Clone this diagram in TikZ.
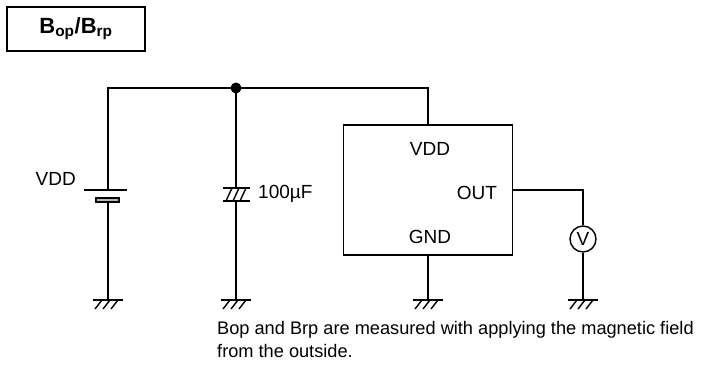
\documentclass[tikz,border=0pt]{standalone}
\usepackage{fontspec}
\setmainfont{Liberation Sans}
\usetikzlibrary{positioning,calc}
\tikzset{
	thick,
	>=latex,
	wire/.style = {line width=1.6pt},
	hatch/.style = {line width=1.4pt},
	chip/.style = {
			draw,
			line width = 1.6pt,
			minimum width = 169pt,
			minimum height = 130pt,
			inner sep = 0pt,
		},
	pin/.style = {font=\fontsize{19}{23}\selectfont, inner sep=0pt},
	meter/.style = {
			circle,
			draw,
			line width = 1.4pt,
			minimum size = 26pt,
			inner sep = 0pt,
			font = \fontsize{19}{22}\selectfont,
		},
}

\begin{document}
\begin{tikzpicture}[x=1pt,y=-1pt]
	\useasboundingbox (0,0) rectangle (704,376);

	% Title box
	\node[draw, line width=1.6pt, minimum width=138pt, minimum height=44pt,
		font=\fontsize{22}{26}\selectfont\bfseries] (title) at (76,29)
		{B\textsubscript{op}/B\textsubscript{rp}};

	% Sensor IC
	\node[chip] (ic) at (428,190) {};
	\node[pin] (vddpin) at (430,149) {VDD};
	\node[pin] (outpin) at (477,193) {OUT};
	\node[pin] (gndpin) at (430,237) {GND};

	% Grounds
	\foreach \x in {108,236,428,583}
		{   \coordinate (gnd\x) at (\x,300);
			\draw[wire] (\x-15,300) -- (\x+15,300);
			\foreach \d in {-6,2,10}
				\draw[hatch] (\x+\d,300) -- (\x+\d-7,309);
		}

	% Supply rail
	\coordinate (batP) at (108,190);
	\coordinate (batN) at (108,202);
	\coordinate (jn) at (236,88);
	\coordinate (capT) at (236,188);
	\coordinate (capB) at (236,201);
	\draw[wire] (batP) |- (jn) -| (ic.north);
	\fill (jn) circle (5.5pt);

	% Battery
	\draw[wire] (84,190) -- (127,190);
	\draw[line width=1.2pt, fill=gray!55] (96,198) rectangle (119,202);
	\draw[wire] (batN) -- (gnd108);
	\node[pin, anchor=east] (vddlbl) at (76,179) {VDD};

	% Capacitor
	\draw[wire] (jn) -- (capT);
	\draw[wire] (223,188) -- (250,188);
	\draw[wire] (223,201) -- (250,201);
	\foreach \s in {226,233,240}
		\draw[hatch] (\s,201) -- (\s+6,188);
	\draw[wire] (capB) -- (gnd236);
	\node[pin, anchor=west] (caplbl) at (258,194) {100µF};

	% Output and voltmeter
	\node[meter] (vm) at (583,239) {V};
	\draw[wire] (ic.east) -| (vm.north);
	\draw[wire] (vm.south) -- (gnd583);
	\draw[wire] (ic.south) -- (gnd428);

	% Note
	\node[anchor=north west, align=left, inner sep=0pt,
		font=\fontsize{18.2}{23}\selectfont] (note) at (217,321)
		{Bop and Brp are measured with applying the magnetic field\\from the outside.};
\end{tikzpicture}
\end{document}
